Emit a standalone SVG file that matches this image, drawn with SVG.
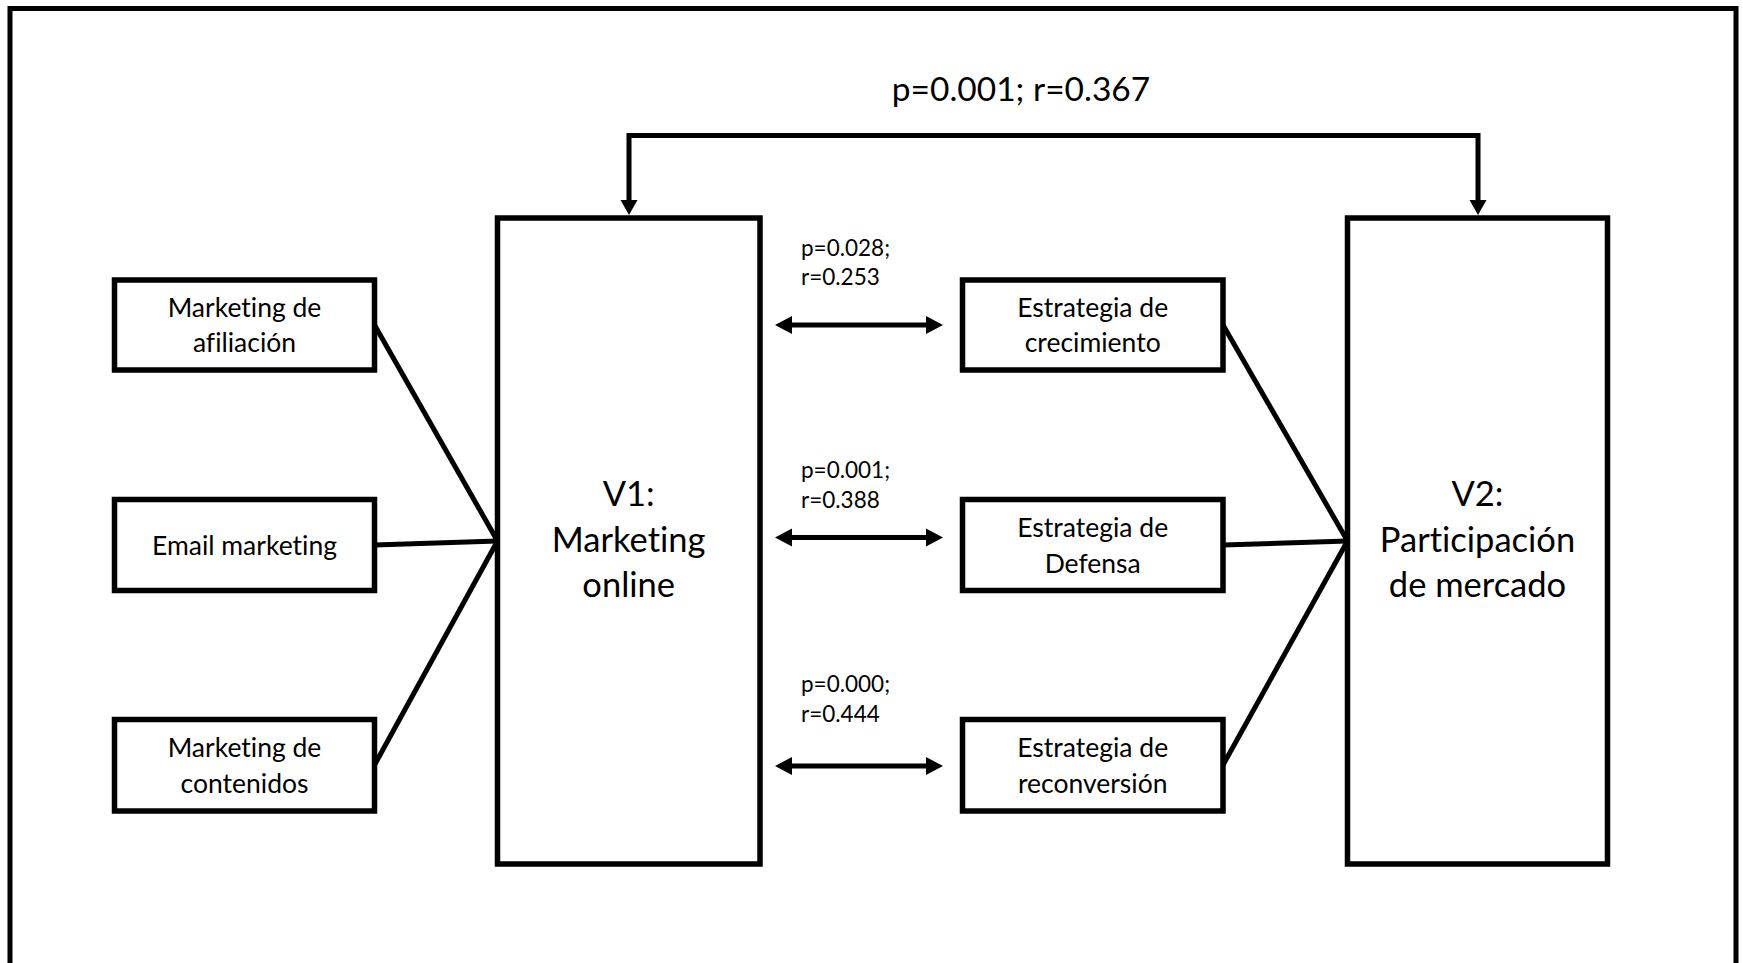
<svg xmlns="http://www.w3.org/2000/svg" width="1743" height="963" viewBox="0 0 1743 963">
  <style>
    .box { fill: #ffffff; stroke: #000000; stroke-width: 5.5; }
    .link { fill: none; stroke: #000000; stroke-width: 5; }
    .txt { font-family: Lato, "Open Sans", "Liberation Sans", sans-serif; fill: #000000; text-anchor: middle;
           font-variant-ligatures: none; font-feature-settings: "liga" 0, "clig" 0; }
    .big { font-size: 34.5px; }
    .mid { font-size: 26.5px; }
    .lab { font-size: 22.5px; text-anchor: start; }
    .top { font-size: 33.5px; }
  </style>
  <defs>
    <marker id="headDown" markerUnits="userSpaceOnUse" markerWidth="16" markerHeight="18" viewBox="0 -9 16 18" refX="0" refY="0" orient="auto-start-reverse">
      <path d="M0,-8.5 L15,0 L0,8.5 Z" fill="#000000"/>
    </marker>
    <marker id="headBoth" markerUnits="userSpaceOnUse" markerWidth="18" markerHeight="20" viewBox="0 -10 18 20" refX="0" refY="0" orient="auto-start-reverse">
      <path d="M0,-9 L17,0 L0,9 Z" fill="#000000"/>
    </marker>
  </defs>

  <rect width="1743" height="963" fill="#ffffff"/>
  <!-- outer frame (open at the bottom edge) -->
  <rect x="10" y="8.5" width="1726" height="1000" fill="none" stroke="#000000" stroke-width="5"/>

  <g id="connectors">
    <!-- V1 <-> V2 correlation bracket -->
    <path class="link" d="M629,200 L629,135.5 L1478,135.5 L1478,200" marker-start="url(#headDown)" marker-end="url(#headDown)"/>
    <!-- dimensions of V1 -->
    <line class="link" x1="374.5" y1="325" x2="497.5" y2="541"/>
    <line class="link" x1="374.5" y1="545" x2="497.5" y2="541"/>
    <line class="link" x1="374.5" y1="765" x2="497.5" y2="541"/>
    <!-- dimensions of V2 -->
    <line class="link" x1="1223" y1="325" x2="1347.5" y2="541"/>
    <line class="link" x1="1223" y1="545" x2="1347.5" y2="541"/>
    <line class="link" x1="1223" y1="765" x2="1347.5" y2="541"/>
    <!-- V1 <-> strategy correlations -->
    <line class="link" x1="792" y1="325" x2="926" y2="325" marker-start="url(#headBoth)" marker-end="url(#headBoth)"/>
    <line class="link" x1="792" y1="537.5" x2="926" y2="537.5" marker-start="url(#headBoth)" marker-end="url(#headBoth)"/>
    <line class="link" x1="792" y1="766" x2="926" y2="766" marker-start="url(#headBoth)" marker-end="url(#headBoth)"/>
  </g>

  <g id="label-v1-v2">
    <text class="txt top" x="1021" y="101">p=0.001; r=0.367</text>
  </g>
  <g id="label-crecimiento">
    <text class="txt lab" x="801" y="255.5">p=0.028;</text>
    <text class="txt lab" x="801" y="285">r=0.253</text>
  </g>
  <g id="label-defensa">
    <text class="txt lab" x="801" y="478">p=0.001;</text>
    <text class="txt lab" x="801" y="507.5">r=0.388</text>
  </g>
  <g id="label-reconversion">
    <text class="txt lab" x="801" y="692">p=0.000;</text>
    <text class="txt lab" x="801" y="721.5">r=0.444</text>
  </g>

  <g id="v1">
    <rect class="box" x="497.5" y="218" width="262.5" height="646"/>
    <text class="txt big" x="628.7" y="506">V1:</text>
    <text class="txt big" x="628.7" y="552">Marketing</text>
    <text class="txt big" x="628.7" y="597">online</text>
  </g>

  <g id="v2">
    <rect class="box" x="1347.5" y="218" width="260" height="646"/>
    <text class="txt big" x="1477.5" y="506">V2:</text>
    <text class="txt big" x="1477.5" y="552">Participación</text>
    <text class="txt big" x="1477.5" y="597">de mercado</text>
  </g>

  <g id="afiliacion">
    <rect class="box" x="114.5" y="280" width="260" height="90"/>
    <text class="txt mid" x="244.5" y="317">Marketing de</text>
    <text class="txt mid" x="244.5" y="352">afiliación</text>
  </g>

  <g id="email">
    <rect class="box" x="114.5" y="499.5" width="260" height="91"/>
    <text class="txt mid" x="244.5" y="554.5">Email marketing</text>
  </g>

  <g id="contenidos">
    <rect class="box" x="114.5" y="719.5" width="260" height="91.5"/>
    <text class="txt mid" x="244.5" y="757">Marketing de</text>
    <text class="txt mid" x="244.5" y="792.5">contenidos</text>
  </g>

  <g id="crecimiento">
    <rect class="box" x="962.5" y="280" width="260.5" height="90"/>
    <text class="txt mid" x="1092.7" y="317">Estrategia de</text>
    <text class="txt mid" x="1092.7" y="352">crecimiento</text>
  </g>

  <g id="defensa">
    <rect class="box" x="962.5" y="499.5" width="260.5" height="91"/>
    <text class="txt mid" x="1092.7" y="537">Estrategia de</text>
    <text class="txt mid" x="1092.7" y="572.5">Defensa</text>
  </g>

  <g id="reconversion">
    <rect class="box" x="962.5" y="719.5" width="260.5" height="91.5"/>
    <text class="txt mid" x="1092.7" y="757">Estrategia de</text>
    <text class="txt mid" x="1092.7" y="792.5">reconversión</text>
  </g>
</svg>
